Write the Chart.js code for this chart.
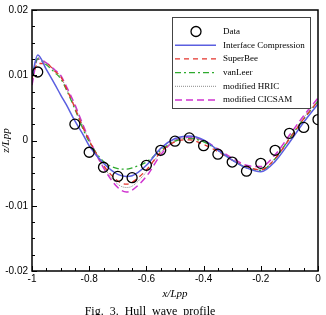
<!DOCTYPE html>
<html>
<head>
<meta charset="utf-8">
<title>Hull wave profile</title>
<script src="https://cdn.jsdelivr.net/npm/chart.js@4"></script>
<style>
    html, body { margin: 0; padding: 0; background: #fff; }
    #wrap { width: 326px; height: 315px; }
</style>
</head>
<body>
<div id="wrap"><canvas id="wave-chart" width="326" height="315"></canvas></div>
<script>
// Datos medidos (circulos)
const dataX = [-0.98, -0.85, -0.8, -0.75, -0.7, -0.65, -0.6, -0.55, -0.5, -0.45, -0.4, -0.35, -0.3, -0.25, -0.2, -0.15, -0.1, -0.05, 0];
const dataZ = [0.0105, 0.0025, -0.0018, -0.0041, -0.0055, -0.0057, -0.0038, -0.0015, -0.0001, 0.0004, -0.0008, -0.0021, -0.0033, -0.0047, -0.0035, -0.0015, 0.0011, 0.0020, 0.0032];

// Posiciones x de las curvas calculadas
const curveX = [-1, -0.98, -0.95, -0.92, -0.9, -0.88, -0.85, -0.82, -0.8, -0.75, -0.7, -0.67, -0.65, -0.6, -0.55, -0.5, -0.45, -0.4, -0.35, -0.3, -0.25, -0.2, -0.15, -0.1, -0.05, 0];

const interfaceZ = [0.0098, 0.0131, 0.0109, 0.0086, 0.0070, 0.0055, 0.0030, 0.0008, -0.0008, -0.0035, -0.0052, -0.0055, -0.0054, -0.0038, -0.0012, 0.0003, 0.0007, 0.0001, -0.0015, -0.0030, -0.0042, -0.0048, -0.0032, -0.0003, 0.0028, 0.0056];
const superBeeZ = [0.0095, 0.0118, 0.0118, 0.0106, 0.0098, 0.0080, 0.0050, 0.0018, 0.0000, -0.0038, -0.0062, -0.0067, -0.0064, -0.0045, -0.0018, -0.0002, 0.0001, -0.0006, -0.0017, -0.0030, -0.0040, -0.0045, -0.0028, 0.0002, 0.0033, 0.0060];
const vanLeerZ = [0.0098, 0.0125, 0.0116, 0.0104, 0.0095, 0.0078, 0.0048, 0.0016, -0.0002, -0.0032, -0.0043, -0.0044, -0.0042, -0.0033, -0.0015, -0.0001, 0.0003, -0.0002, -0.0015, -0.0030, -0.0042, -0.0046, -0.0028, 0.0003, 0.0033, 0.0060];
const hricZ = [0.0095, 0.0127, 0.0118, 0.0107, 0.0098, 0.0080, 0.0052, 0.0020, 0.0000, -0.0040, -0.0067, -0.0072, -0.0070, -0.0048, -0.0018, 0.0000, 0.0004, -0.0001, -0.0014, -0.0029, -0.0041, -0.0045, -0.0027, 0.0004, 0.0035, 0.0062];
const cicsamZ = [0.0085, 0.0125, 0.0119, 0.0108, 0.0100, 0.0083, 0.0055, 0.0022, 0.0002, -0.0042, -0.0072, -0.0079, -0.0076, -0.0055, -0.0022, 0.0000, 0.0005, 0.0000, -0.0013, -0.0027, -0.0038, -0.0040, -0.0022, 0.0008, 0.0038, 0.0065];

// Ejes
const xTicks = [-1, -0.8, -0.6, -0.4, -0.2, 0];
const yTicks = [-0.02, -0.01, 0, 0.01, 0.02];

const SERIF = '"Liberation Serif", "DejaVu Serif", serif';
const SANS = '"Liberation Sans", Arial, sans-serif';

function toPoints(xs, ys) {
    return xs.map((x, i) => ({ x: x, y: ys[i] }));
}

// Etiquetas sin ceros sobrantes ("-1" en vez de "-1.0")
function plainLabel(value) {
    return String(Number(value.toFixed(4)));
}

function lineSet(label, ys, color, dash, width) {
    return {
        label: label,
        data: toPoints(curveX, ys),
        borderColor: color,
        borderDash: dash,
        borderWidth: width,
        pointRadius: 0,
        showLine: true,
        fill: false,
        cubicInterpolationMode: 'monotone'
    };
}

// Marcos, ticks interiores y leyenda dibujados a mano
const framePlugin = {
    id: 'frame',
    afterDatasetsDraw(chart) {
        const ctx = chart.ctx;
        const a = chart.chartArea;
        const xs = chart.scales.x;
        const ys = chart.scales.y;
        ctx.save();
        ctx.strokeStyle = '#000';
        ctx.lineWidth = 1;

        // ticks del eje x (mayores y menores)
        for (let i = 0; i <= 20; i++) {
            const v = -1 + i * 0.05;
            const px = Math.round(xs.getPixelForValue(v)) + 0.5;
            const len = (i % 4 === 0) ? 5 : 3;
            ctx.beginPath();
            ctx.moveTo(px, a.bottom);
            ctx.lineTo(px, a.bottom - len);
            ctx.stroke();
        }
        // ticks del eje y
        for (let i = 0; i <= 16; i++) {
            const v = -0.02 + i * 0.0025;
            const py = Math.round(ys.getPixelForValue(v)) + 0.5;
            const len = (i % 4 === 0) ? 5 : 3;
            ctx.beginPath();
            ctx.moveTo(a.left, py);
            ctx.lineTo(a.left + len, py);
            ctx.stroke();
        }

        // marco
        ctx.lineWidth = 1.5;
        ctx.strokeRect(a.left, a.top, a.right - a.left, a.bottom - a.top);

        // leyenda
        const box = { x: 172, y: 17, w: 138, h: 91 };
        ctx.fillStyle = '#fff';
        ctx.fillRect(box.x, box.y, box.w, box.h);
        ctx.lineWidth = 1;
        ctx.strokeStyle = '#444';
        ctx.strokeRect(box.x + 0.5, box.y + 0.5, box.w, box.h);

        ctx.font = '9px ' + SERIF;
        ctx.textBaseline = 'middle';
        ctx.textAlign = 'left';
        chart.data.datasets.forEach((ds, i) => {
            const rowY = 31.5 + i * 13.7;
            if (ds.showLine === false) {
                ctx.setLineDash([]);
                ctx.strokeStyle = ds.borderColor;
                ctx.lineWidth = ds.borderWidth;
                ctx.beginPath();
                ctx.arc(196, rowY, ds.pointRadius, 0, Math.PI * 2);
                ctx.stroke();
            } else {
                ctx.setLineDash(ds.borderDash || []);
                ctx.strokeStyle = ds.borderColor;
                ctx.lineWidth = ds.borderWidth;
                ctx.beginPath();
                ctx.moveTo(175, rowY);
                ctx.lineTo(216, rowY);
                ctx.stroke();
            }
            ctx.setLineDash([]);
            ctx.fillStyle = '#000';
            ctx.fillText(ds.label, 223, rowY);
        });

        // pie de figura
        ctx.font = '12px ' + SERIF;
        ctx.textAlign = 'center';
        ctx.fillText('Fig.  3.  Hull  wave  profile', 150, 312);
        ctx.restore();
    }
};

document.addEventListener('DOMContentLoaded', function() {
    const ctx = document.getElementById('wave-chart').getContext('2d');
    new Chart(ctx, {
        type: 'scatter',
        data: {
            datasets: [
                {
                    label: 'Data',
                    data: toPoints(dataX, dataZ),
                    showLine: false,
                    pointStyle: 'circle',
                    pointRadius: 5,
                    pointBorderWidth: 1.3,
                    borderColor: '#000',
                    borderWidth: 1.3,
                    pointBackgroundColor: 'rgba(0,0,0,0)',
                    backgroundColor: 'rgba(0,0,0,0)'
                },
                lineSet('Interface Compression', interfaceZ, '#5b5fe0', [], 1.5),
                lineSet('SuperBee', superBeeZ, '#e3342c', [5, 4], 1.3),
                lineSet('vanLeer', vanLeerZ, '#2eaa2e', [6, 3, 2, 3], 1.3),
                lineSet('modified HRIC', hricZ, '#8a8a8a', [1, 1], 1),
                lineSet('modified CICSAM', cicsamZ, '#d033d0', [7, 4], 1.5)
            ]
        },
        options: {
            responsive: false,
            animation: false,
            layout: { padding: { top: 8, right: 8, left: 0, bottom: 0 } },
            plugins: {
                legend: { display: false },
                tooltip: { enabled: false }
            },
            scales: {
                x: {
                    type: 'linear',
                    min: -1,
                    max: 0,
                    afterFit: function(scale) { scale.height = 44; },
                    afterBuildTicks: function(scale) { scale.ticks = xTicks.map(v => ({ value: v })); },
                    grid: { display: false, drawTicks: false },
                    border: { display: false },
                    ticks: {
                        padding: 2,
                        color: '#000',
                        font: { family: SANS, size: 10 },
                        callback: plainLabel
                    },
                    title: {
                        display: true,
                        text: 'x/Lpp',
                        color: '#000',
                        font: { family: SERIF, size: 11, style: 'italic' },
                        padding: { top: 0, bottom: 14 }
                    }
                },
                y: {
                    type: 'linear',
                    min: -0.02,
                    max: 0.02,
                    afterFit: function(scale) { scale.width = 32; },
                    afterBuildTicks: function(scale) { scale.ticks = yTicks.map(v => ({ value: v })); },
                    grid: { display: false, drawTicks: false },
                    border: { display: false },
                    ticks: {
                        padding: 4,
                        color: '#000',
                        font: { family: SANS, size: 10 },
                        callback: plainLabel
                    },
                    title: {
                        display: true,
                        text: 'z/Lpp',
                        color: '#000',
                        font: { family: SERIF, size: 11, style: 'italic' },
                        padding: { top: 0, bottom: 0 }
                    }
                }
            }
        },
        plugins: [framePlugin]
    });
});
</script>
</body>
</html>
